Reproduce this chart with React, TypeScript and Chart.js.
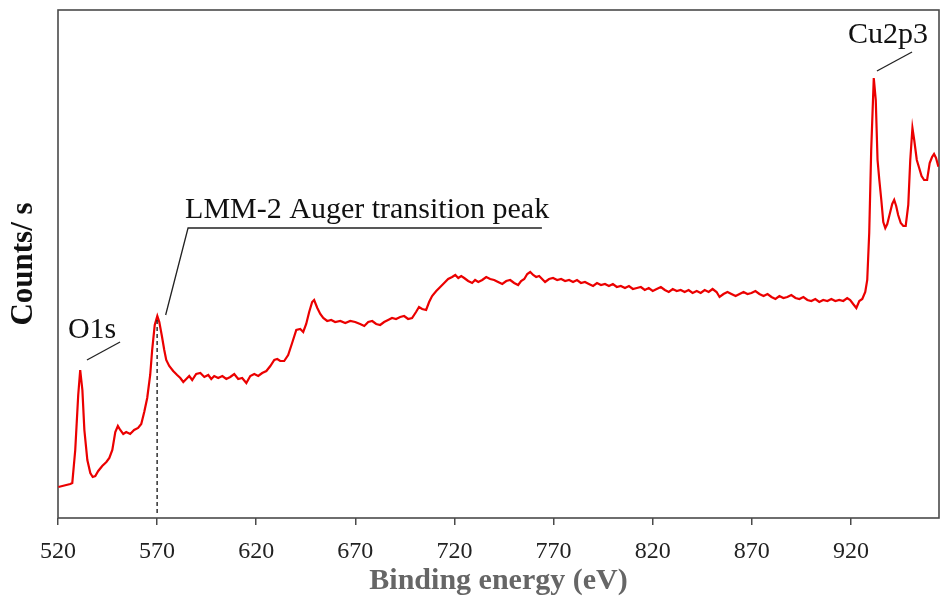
import React, { useEffect, useRef } from "react";
import { Chart, registerables } from "chart.js";

Chart.register(...registerables);

// Binding energy (eV)
const ENERGY = [520.2, 522.2, 524.2, 526.2, 527.2, 528.7, 530.2, 531.2, 532.3, 533.3, 534.8, 536.3, 537.5, 538.8, 540.3, 542.3, 544.4, 545.9, 547.4, 548.9, 550.2, 551.4, 552.9, 554.4, 556.4, 558.4, 560.4, 562.0, 563.5, 565.0, 566.5, 567.5, 568.8, 570.1, 571.1, 572.4, 573.6, 574.6, 576.1, 578.1, 580.1, 581.7, 583.2, 584.7, 586.2, 587.7, 589.7, 591.8, 593.8, 595.8, 597.3, 598.8, 600.8, 602.9, 604.9, 606.9, 608.9, 610.9, 612.9, 615.0, 617.0, 619.0, 621.0, 623.0, 625.1, 627.1, 629.1, 630.6, 632.1, 634.1, 636.1, 638.1, 640.2, 642.2, 643.7, 645.2, 646.7, 648.2, 649.2, 650.8, 652.3, 653.8, 655.8, 657.8, 659.8, 662.4, 664.9, 667.4, 669.9, 672.4, 674.5, 676.5, 678.5, 680.5, 682.5, 684.5, 686.5, 688.5, 690.5, 692.6, 694.6, 696.6, 698.6, 700.6, 702.1, 703.7, 705.7, 707.2, 708.7, 710.8, 712.8, 714.8, 716.8, 718.8, 720.4, 721.9, 723.4, 724.9, 726.9, 728.9, 730.4, 732.0, 734.0, 736.0, 738.0, 740.0, 742.0, 744.1, 746.1, 748.1, 750.1, 752.1, 753.6, 755.2, 756.7, 758.2, 759.7, 761.2, 762.7, 764.2, 765.7, 767.7, 769.7, 771.8, 773.8, 775.8, 777.8, 779.8, 781.8, 783.8, 785.8, 787.8, 789.9, 791.9, 793.9, 795.9, 797.9, 799.9, 801.9, 803.9, 806.0, 808.0, 810.0, 812.0, 814.0, 816.0, 818.0, 820.0, 822.0, 824.1, 826.1, 828.1, 830.1, 832.1, 834.1, 836.1, 838.1, 840.1, 842.2, 844.2, 846.2, 848.2, 850.2, 852.2, 853.7, 855.7, 857.7, 859.7, 861.8, 863.8, 865.8, 867.8, 869.8, 871.8, 873.8, 875.9, 877.9, 879.9, 881.9, 883.9, 885.9, 887.9, 889.9, 892.0, 894.0, 896.0, 898.0, 900.0, 902.0, 904.0, 906.0, 908.1, 910.1, 912.1, 914.1, 916.1, 918.1, 919.6, 921.1, 922.7, 924.2, 925.7, 927.2, 928.2, 929.2, 930.2, 931.5, 932.5, 933.4, 934.3, 935.3, 936.3, 937.3, 938.3, 939.3, 940.8, 941.8, 942.8, 943.8, 945.1, 946.4, 947.6, 948.9, 949.9, 951.0, 951.9, 953.2, 954.4, 955.6, 956.9, 958.4, 959.7, 960.9, 961.9, 962.9, 964.1];

// Counts / s (arbitrary units)
const COUNTS = [1240, 1280, 1320, 1360, 1400, 2720, 4920, 5920, 5120, 3520, 2320, 1800, 1640, 1680, 1880, 2080, 2240, 2400, 2720, 3440, 3680, 3520, 3360, 3440, 3360, 3520, 3600, 3760, 4240, 4800, 5720, 6720, 7720, 8080, 7840, 7280, 6720, 6320, 6080, 5880, 5720, 5600, 5440, 5560, 5680, 5520, 5760, 5800, 5640, 5720, 5560, 5680, 5600, 5680, 5560, 5640, 5760, 5560, 5600, 5400, 5680, 5760, 5680, 5800, 5880, 6080, 6320, 6360, 6280, 6280, 6520, 7000, 7520, 7560, 7440, 7760, 8240, 8640, 8720, 8400, 8160, 8000, 7880, 7920, 7840, 7880, 7800, 7880, 7840, 7760, 7680, 7840, 7880, 7760, 7720, 7840, 7920, 8000, 7960, 8040, 8080, 7960, 8000, 8240, 8440, 8360, 8320, 8640, 8880, 9080, 9240, 9400, 9560, 9640, 9720, 9600, 9680, 9600, 9480, 9400, 9520, 9440, 9520, 9640, 9560, 9520, 9440, 9360, 9480, 9520, 9400, 9320, 9480, 9560, 9760, 9840, 9720, 9640, 9680, 9560, 9440, 9560, 9600, 9520, 9560, 9480, 9520, 9440, 9520, 9400, 9440, 9360, 9280, 9400, 9320, 9360, 9280, 9360, 9240, 9280, 9200, 9280, 9160, 9200, 9240, 9120, 9200, 9080, 9160, 9240, 9120, 9040, 9160, 9080, 9120, 9040, 9120, 9000, 9080, 9000, 9120, 9040, 9160, 9040, 8840, 8960, 9040, 8960, 8880, 8960, 9040, 8960, 9000, 9080, 8960, 8880, 8960, 8840, 8760, 8880, 8800, 8840, 8920, 8800, 8760, 8840, 8720, 8680, 8760, 8640, 8720, 8680, 8760, 8680, 8720, 8680, 8800, 8720, 8560, 8400, 8680, 8760, 9040, 9520, 11400, 14720, 17600, 16720, 14320, 13520, 12720, 11840, 11600, 11760, 12080, 12560, 12720, 12480, 12120, 11800, 11680, 11680, 12520, 14320, 15600, 15120, 14320, 14000, 13680, 13520, 13520, 14200, 14440, 14560, 14400, 14050];

const X_TICKS = [520, 570, 620, 670, 720, 770, 820, 870, 920];
const X_MIN = 520;
const X_MAX = 964.4;
const Y_MIN = 0;
const Y_MAX = 20320;

// Annotations (data coordinates)
const O1S_LABEL = { text: "O1s", x: 525.0, y: 7200 };
const O1S_LEADER = [[534.6, 6320], [551.3, 7040]];
const LMM_LABEL = { text: "LMM-2 Auger transition peak", x: 584.1, y: 12000 };
const LMM_LEADER = [[574.3, 8120], [585.6, 11600], [764.1, 11600]];
const LMM_DASH = { x: 570, yTop: 7920, yBottom: 0 };
const CU_LABEL = { text: "Cu2p3", x: 918.5, y: 19000 };
const CU_LEADER = [[933.1, 17880], [950.8, 18640]];

const SERIF = '"Liberation Serif", "Times New Roman", Times, serif';

const framePlugin = {
  id: "frame",
  beforeDatasetsDraw(chart: any) {
    const { ctx, chartArea } = chart;
    ctx.save();
    ctx.strokeStyle = "#4a4a4a";
    ctx.lineWidth = 1.6;
    ctx.strokeRect(chartArea.left, chartArea.top, chartArea.right - chartArea.left, chartArea.bottom - chartArea.top);
    ctx.restore();
  },
};

const annotationPlugin = {
  id: "annot",
  afterDatasetsDraw(chart: any) {
    const { ctx } = chart;
    const xs = chart.scales.x;
    const ys = chart.scales.y;
    const px = (v: number) => xs.getPixelForValue(v);
    const py = (v: number) => ys.getPixelForValue(v);
    ctx.save();
    ctx.strokeStyle = "#222";
    ctx.lineWidth = 1.3;
    const poly = (pts: number[][]) => {
      ctx.beginPath();
      pts.forEach((p, i) => (i === 0 ? ctx.moveTo(px(p[0]), py(p[1])) : ctx.lineTo(px(p[0]), py(p[1]))));
      ctx.stroke();
    };
    poly(O1S_LEADER);
    poly(LMM_LEADER);
    poly(CU_LEADER);
    ctx.setLineDash([4, 3]);
    ctx.lineWidth = 1.3;
    ctx.strokeStyle = "#111";
    ctx.beginPath();
    ctx.moveTo(px(LMM_DASH.x), py(LMM_DASH.yTop));
    ctx.lineTo(px(LMM_DASH.x), py(LMM_DASH.yBottom) - 4);
    ctx.stroke();
    ctx.setLineDash([]);
    ctx.fillStyle = "#111";
    ctx.font = `30px ${SERIF}`;
    ctx.textAlign = "left";
    ctx.textBaseline = "alphabetic";
    [O1S_LABEL, LMM_LABEL, CU_LABEL].forEach((l) => ctx.fillText(l.text, px(l.x), py(l.y)));
    ctx.restore();
  },
};

export default function App() {
  const canvasRef = useRef<HTMLCanvasElement | null>(null);

  useEffect(() => {
    document.body.style.margin = "0";
    const canvas = canvasRef.current;
    if (!canvas) return;
    const chart = new Chart(canvas, {
      type: "line",
      data: {
        datasets: [
          {
            data: ENERGY.map((e, i) => ({ x: e, y: COUNTS[i] })),
            borderColor: "rgb(235,0,0)",
            borderWidth: 2.2,
            pointRadius: 0,
            tension: 0,
            fill: false,
          },
        ],
      },
      options: {
        animation: false,
        responsive: false,
        maintainAspectRatio: false,
        layout: { padding: { left: 0, top: 10, right: 1, bottom: 0 } },
        plugins: { legend: { display: false }, tooltip: { enabled: false } },
        scales: {
          x: {
            type: "linear",
            min: X_MIN,
            max: X_MAX,
            afterBuildTicks: (s: any) => {
              s.ticks = X_TICKS.map((v) => ({ value: v }));
            },
            afterFit: (s: any) => {
              s.height = 84;
            },
            ticks: {
              font: { family: SERIF, size: 24 },
              color: "#222",
              padding: 12,
              maxRotation: 0,
              autoSkip: false,
            },
            grid: {
              display: true,
              drawOnChartArea: false,
              drawTicks: true,
              tickLength: 7,
              color: "#4a4a4a",
              lineWidth: 1.5,
            },
            border: { display: false },
            title: {
              display: true,
              text: "Binding energy (eV)",
              color: "#666",
              font: { family: SERIF, size: 30, weight: "bold" },
              padding: { top: 0, bottom: 3 },
            },
          },
          y: {
            type: "linear",
            min: Y_MIN,
            max: Y_MAX,
            ticks: { display: false },
            grid: { display: false },
            border: { display: false },
            afterFit: (s: any) => {
              s.width = 58;
            },
            title: {
              display: true,
              text: "Counts/ s",
              color: "#111",
              font: { family: SERIF, size: 31, weight: "bold" },
              padding: { top: 5, bottom: 0 },
            },
          },
        },
      },
      plugins: [framePlugin, annotationPlugin],
    });
    return () => chart.destroy();
  }, []);

  return (
    <div style={{ position: "absolute", left: 0, top: 0, width: 940, height: 602, background: "#fff" }}>
      <canvas ref={canvasRef} width={940} height={602} style={{ display: "block" }} />
    </div>
  );
}
